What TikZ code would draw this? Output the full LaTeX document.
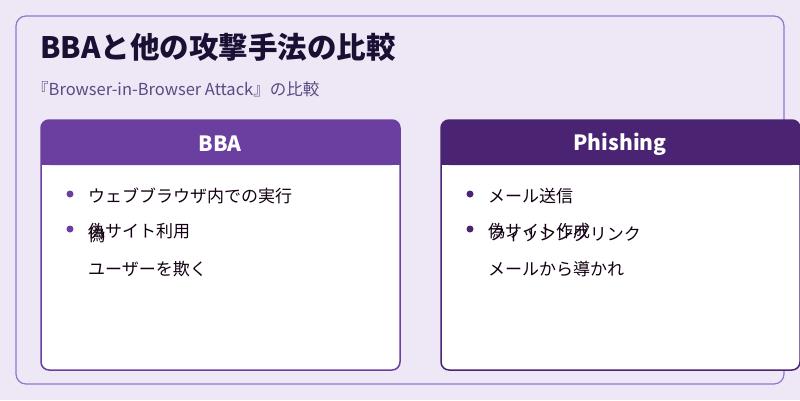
\documentclass[tikz,border=0pt]{standalone}
\usepackage{fontspec}
\setmainfont{Noto Sans CJK JP}
\begin{document}
\begin{tikzpicture}[x=1pt,y=-1pt,
 card/.style={draw=#1,line width=1.5pt,fill=white,rounded corners=8pt},
 hdr/.style={fill=#1,rounded corners=8pt},
 item/.style={anchor=west,font=\fontsize{17}{17}\selectfont,text=black!85!violet,inner sep=0},
 dot/.style={circle,fill=#1,inner sep=0,minimum size=7pt}]
\useasboundingbox (0,0) rectangle (800,400);
\fill[fill={rgb,255:red,237;green,231;blue,246}] (0,0) rectangle (800,400);
\draw[draw={rgb,255:red,149;green,117;blue,205},line width=1.2pt,rounded corners=10pt] (16,16) rectangle (784,384);
\node[anchor=west,font=\bfseries\fontsize{29.5}{29.5}\selectfont,text={rgb,255:red,26;green,16;blue,51},inner sep=0] (title) at (40,47) {BBAと他の攻撃手法の比較};
\node[anchor=west,font=\fontsize{16.5}{16.5}\selectfont,text={rgb,255:red,90;green,75;blue,130},inner sep=0] (sub) at (32,89) {『Browser-in-Browser Attack』の比較};
\definecolor{pa}{RGB}{107,63,160}\definecolor{pb}{RGB}{74,36,114}
% left card
\draw[card=pa] (41,120) rectangle (400,370);
\fill[hdr=pa] (41,120) rectangle (400,165);
\fill[pa] (41,150) rectangle (400,165);
\node[font=\bfseries\fontsize{21}{21}\selectfont,text=white] (h1) at (220,144) {BBA};
\node[dot=pa] (b1) at (70,194) {};
\node[item] (t1) at (88,196) {ウェブブラウザ内での実行};
\node[dot=pa] (b2) at (70,229) {};
\node[item] (t2) at (88,231) {偽サイト利用};
\node[item] (t2b) at (88,235) {偽};
\node[item] (t3) at (88,269) {ユーザーを欺く};
% right card
\draw[card=pb] (441,120) rectangle (800,370);
\fill[hdr=pb] (441,120) rectangle (800,165);
\fill[pb] (441,150) rectangle (800,165);
\node[font=\bfseries\fontsize{21}{21}\selectfont,text=white] (h2) at (620,144) {Phishing};
\node[dot=pb] (c1) at (470,194) {};
\node[item] (u1) at (488,196) {メール送信};
\node[dot=pb] (c2) at (470,229) {};
\node[item] (u2) at (488,231) {偽サイト作成};
\node[item] (u2b) at (488,234) {フィッシングリンク};
\node[item] (u3) at (488,269) {メールから導かれ};
\end{tikzpicture}
\end{document}
